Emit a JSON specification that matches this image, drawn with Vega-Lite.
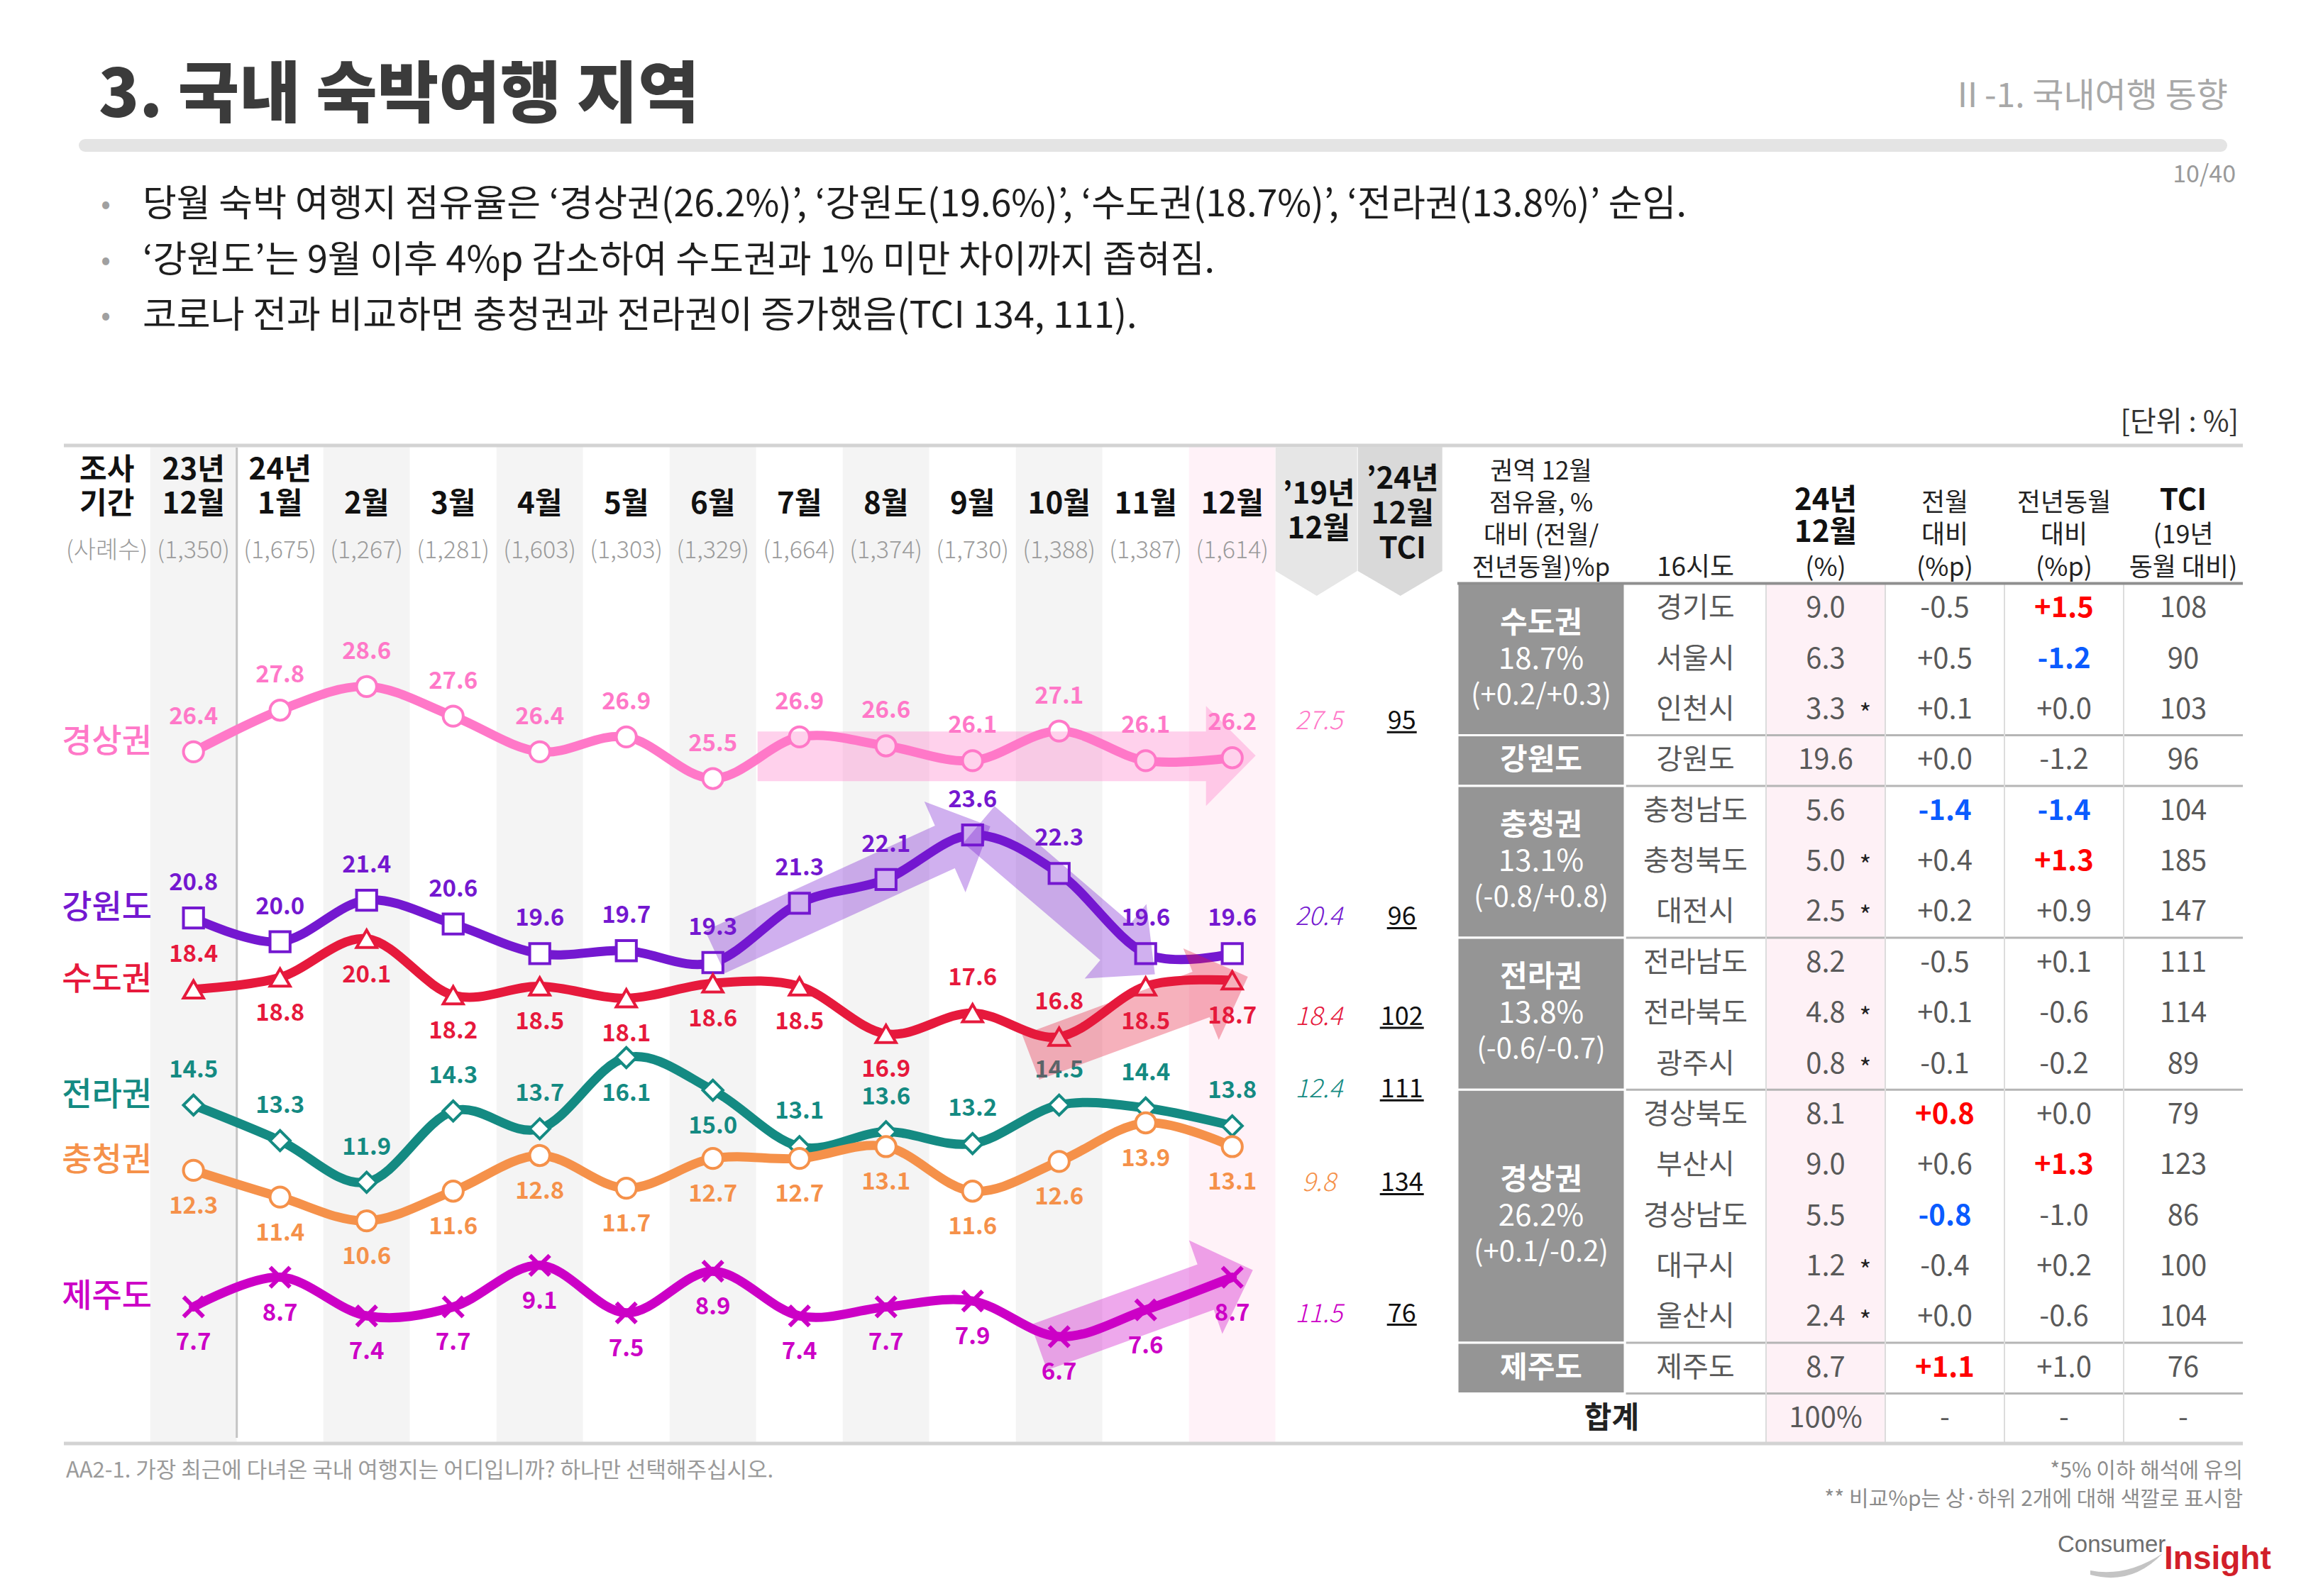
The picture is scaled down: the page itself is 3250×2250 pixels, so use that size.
{
"$schema":"https://vega.github.io/schema/vega-lite/v6.json",
"width":3250,"height":2250,"padding":0,"autosize":{"type":"none"},"background":"#ffffff",
"config":{"font":"Noto Sans CJK KR","view":{"stroke":null},"axis":{"disable":true},"legend":{"disable":true}},
"datasets":{
"series":[
{"region":"경상권","month":"23.12","value":26.4,"pos":"a"},{"region":"경상권","month":"24.01","value":27.8,"pos":"a"},{"region":"경상권","month":"24.02","value":28.6,"pos":"a"},{"region":"경상권","month":"24.03","value":27.6,"pos":"a"},{"region":"경상권","month":"24.04","value":26.4,"pos":"a"},{"region":"경상권","month":"24.05","value":26.9,"pos":"a"},{"region":"경상권","month":"24.06","value":25.5,"pos":"a"},{"region":"경상권","month":"24.07","value":26.9,"pos":"a"},{"region":"경상권","month":"24.08","value":26.6,"pos":"a"},{"region":"경상권","month":"24.09","value":26.1,"pos":"a"},{"region":"경상권","month":"24.10","value":27.1,"pos":"a"},{"region":"경상권","month":"24.11","value":26.1,"pos":"a"},{"region":"경상권","month":"24.12","value":26.2,"pos":"a"},
{"region":"강원도","month":"23.12","value":20.8,"pos":"a"},{"region":"강원도","month":"24.01","value":20.0,"pos":"a"},{"region":"강원도","month":"24.02","value":21.4,"pos":"a"},{"region":"강원도","month":"24.03","value":20.6,"pos":"a"},{"region":"강원도","month":"24.04","value":19.6,"pos":"a"},{"region":"강원도","month":"24.05","value":19.7,"pos":"a"},{"region":"강원도","month":"24.06","value":19.3,"pos":"a"},{"region":"강원도","month":"24.07","value":21.3,"pos":"a"},{"region":"강원도","month":"24.08","value":22.1,"pos":"a"},{"region":"강원도","month":"24.09","value":23.6,"pos":"a"},{"region":"강원도","month":"24.10","value":22.3,"pos":"a"},{"region":"강원도","month":"24.11","value":19.6,"pos":"a"},{"region":"강원도","month":"24.12","value":19.6,"pos":"a"},
{"region":"수도권","month":"23.12","value":18.4,"pos":"a"},{"region":"수도권","month":"24.01","value":18.8,"pos":"b"},{"region":"수도권","month":"24.02","value":20.1,"pos":"b"},{"region":"수도권","month":"24.03","value":18.2,"pos":"b"},{"region":"수도권","month":"24.04","value":18.5,"pos":"b"},{"region":"수도권","month":"24.05","value":18.1,"pos":"b"},{"region":"수도권","month":"24.06","value":18.6,"pos":"b"},{"region":"수도권","month":"24.07","value":18.5,"pos":"b"},{"region":"수도권","month":"24.08","value":16.9,"pos":"b"},{"region":"수도권","month":"24.09","value":17.6,"pos":"a"},{"region":"수도권","month":"24.10","value":16.8,"pos":"a"},{"region":"수도권","month":"24.11","value":18.5,"pos":"b"},{"region":"수도권","month":"24.12","value":18.7,"pos":"b"},
{"region":"전라권","month":"23.12","value":14.5,"pos":"a"},{"region":"전라권","month":"24.01","value":13.3,"pos":"a"},{"region":"전라권","month":"24.02","value":11.9,"pos":"a"},{"region":"전라권","month":"24.03","value":14.3,"pos":"a"},{"region":"전라권","month":"24.04","value":13.7,"pos":"a"},{"region":"전라권","month":"24.05","value":16.1,"pos":"b"},{"region":"전라권","month":"24.06","value":15.0,"pos":"b"},{"region":"전라권","month":"24.07","value":13.1,"pos":"a"},{"region":"전라권","month":"24.08","value":13.6,"pos":"a"},{"region":"전라권","month":"24.09","value":13.2,"pos":"a"},{"region":"전라권","month":"24.10","value":14.5,"pos":"a"},{"region":"전라권","month":"24.11","value":14.4,"pos":"a"},{"region":"전라권","month":"24.12","value":13.8,"pos":"a"},
{"region":"충청권","month":"23.12","value":12.3,"pos":"b"},{"region":"충청권","month":"24.01","value":11.4,"pos":"b"},{"region":"충청권","month":"24.02","value":10.6,"pos":"b"},{"region":"충청권","month":"24.03","value":11.6,"pos":"b"},{"region":"충청권","month":"24.04","value":12.8,"pos":"b"},{"region":"충청권","month":"24.05","value":11.7,"pos":"b"},{"region":"충청권","month":"24.06","value":12.7,"pos":"b"},{"region":"충청권","month":"24.07","value":12.7,"pos":"b"},{"region":"충청권","month":"24.08","value":13.1,"pos":"b"},{"region":"충청권","month":"24.09","value":11.6,"pos":"b"},{"region":"충청권","month":"24.10","value":12.6,"pos":"b"},{"region":"충청권","month":"24.11","value":13.9,"pos":"b"},{"region":"충청권","month":"24.12","value":13.1,"pos":"b"},
{"region":"제주도","month":"23.12","value":7.7,"pos":"b"},{"region":"제주도","month":"24.01","value":8.7,"pos":"b"},{"region":"제주도","month":"24.02","value":7.4,"pos":"b"},{"region":"제주도","month":"24.03","value":7.7,"pos":"b"},{"region":"제주도","month":"24.04","value":9.1,"pos":"b"},{"region":"제주도","month":"24.05","value":7.5,"pos":"b"},{"region":"제주도","month":"24.06","value":8.9,"pos":"b"},{"region":"제주도","month":"24.07","value":7.4,"pos":"b"},{"region":"제주도","month":"24.08","value":7.7,"pos":"b"},{"region":"제주도","month":"24.09","value":7.9,"pos":"b"},{"region":"제주도","month":"24.10","value":6.7,"pos":"b"},{"region":"제주도","month":"24.11","value":7.6,"pos":"b"},{"region":"제주도","month":"24.12","value":8.7,"pos":"b"}
],
"regions":[
{"region":"수도권","first":"경기도","mid":"서울시","last":"인천시","pct":"18.7%","chg":"(+0.2/+0.3)","v19":18.4,"tci":102},
{"region":"강원도","first":"강원도","mid":"강원도","last":"강원도","v19":20.4,"tci":96},
{"region":"충청권","first":"충청남도","mid":"충청북도","last":"대전시","pct":"13.1%","chg":"(-0.8/+0.8)","v19":9.8,"tci":134},
{"region":"전라권","first":"전라남도","mid":"전라북도","last":"광주시","pct":"13.8%","chg":"(-0.6/-0.7)","v19":12.4,"tci":111},
{"region":"경상권","first":"경상북도","mid":"경상남도","last":"울산시","pct":"26.2%","chg":"(+0.1/-0.2)","v19":27.5,"tci":95},
{"region":"제주도","first":"제주도","mid":"제주도","last":"제주도","v19":11.5,"tci":76}
],
"table":[
{"city":"경기도","share":9.0,"mom":"-0.5","yoy":"+1.5","tci":108,"yoyHi":"up"},
{"city":"서울시","share":6.3,"mom":"+0.5","yoy":"-1.2","tci":90,"yoyHi":"down"},
{"city":"인천시","share":3.3,"mom":"+0.1","yoy":"+0.0","tci":103},
{"city":"강원도","share":19.6,"mom":"+0.0","yoy":"-1.2","tci":96},
{"city":"충청남도","share":5.6,"mom":"-1.4","yoy":"-1.4","tci":104,"momHi":"down","yoyHi":"down"},
{"city":"충청북도","share":5.0,"mom":"+0.4","yoy":"+1.3","tci":185,"yoyHi":"up"},
{"city":"대전시","share":2.5,"mom":"+0.2","yoy":"+0.9","tci":147},
{"city":"전라남도","share":8.2,"mom":"-0.5","yoy":"+0.1","tci":111},
{"city":"전라북도","share":4.8,"mom":"+0.1","yoy":"-0.6","tci":114},
{"city":"광주시","share":0.8,"mom":"-0.1","yoy":"-0.2","tci":89},
{"city":"경상북도","share":8.1,"mom":"+0.8","yoy":"+0.0","tci":79,"momHi":"up"},
{"city":"부산시","share":9.0,"mom":"+0.6","yoy":"+1.3","tci":123,"yoyHi":"up"},
{"city":"경상남도","share":5.5,"mom":"-0.8","yoy":"-1.0","tci":86,"momHi":"down"},
{"city":"대구시","share":1.2,"mom":"-0.4","yoy":"+0.2","tci":100},
{"city":"울산시","share":2.4,"mom":"+0.0","yoy":"-0.6","tci":104},
{"city":"제주도","share":8.7,"mom":"+1.1","yoy":"+1.0","tci":76,"momHi":"up"}
],
"chead":[
{"col":"기간","top":"조사","mid":"기간","n":"(사례수)"},
{"col":"23.12","top":"23년","mid":"12월","n":"(1,350)"},
{"col":"24.01","top":"24년","mid":"1월","n":"(1,675)"},
{"col":"24.02","mid":"2월","n":"(1,267)"},
{"col":"24.03","mid":"3월","n":"(1,281)"},
{"col":"24.04","mid":"4월","n":"(1,603)"},
{"col":"24.05","mid":"5월","n":"(1,303)"},
{"col":"24.06","mid":"6월","n":"(1,329)"},
{"col":"24.07","mid":"7월","n":"(1,664)"},
{"col":"24.08","mid":"8월","n":"(1,374)"},
{"col":"24.09","mid":"9월","n":"(1,730)"},
{"col":"24.10","mid":"10월","n":"(1,388)"},
{"col":"24.11","mid":"11월","n":"(1,387)"},
{"col":"24.12","mid":"12월","n":"(1,614)"},
{"col":"'19","box":"’19년\n12월"},
{"col":"TCI","box":"’24년\n12월\nTCI"}
],
"arrows":[
{"arrow":"경상권 유지","region":"경상권","month":"24.12","value":26.2},
{"arrow":"강원도 상승","region":"강원도","month":"24.09","value":23.6},
{"arrow":"강원도 하락","region":"강원도","month":"24.11","value":19.6},
{"arrow":"수도권 상승","region":"수도권","month":"24.12","value":18.7},
{"arrow":"제주도 상승","region":"제주도","month":"24.12","value":8.7}
]
},
"layer":[
{"data":{"values":[{"t":"3. 국내 숙박여행 지역"}]},"mark":{"type":"text","align":"left","baseline":"middle","fontSize":94,"fontWeight":900,"color":"#3b3b3b"},
 "encoding":{"x":{"datum":"k","type":"nominal","scale":{"type":"point","domain":["k"],"range":[139,139],"padding":0}},"y":{"datum":"k","type":"nominal","scale":{"type":"point","domain":["k"],"range":[137,137],"padding":0}},"text":{"field":"t"}}},
{"data":{"values":[{"t":"Ⅱ-1. 국내여행 동향"}]},"mark":{"type":"text","align":"right","baseline":"middle","fontSize":48,"color":"#a8a8a8"},
 "encoding":{"x":{"datum":"k","type":"nominal","scale":{"type":"point","domain":["k"],"range":[3140,3140],"padding":0}},"y":{"datum":"k","type":"nominal","scale":{"type":"point","domain":["k"],"range":[137,137],"padding":0}},"text":{"field":"t"}}},
{"data":{"values":[{}]},"mark":{"type":"rule","strokeWidth":18,"strokeCap":"round","color":"#e4e4e4"},
 "encoding":{"x":{"datum":"L","type":"nominal","scale":{"type":"point","domain":["L","R"],"range":[120,3130],"padding":0}},"x2":{"datum":"R"},"y":{"datum":"k","type":"nominal","scale":{"type":"point","domain":["k"],"range":[205,205],"padding":0}}}},
{"data":{"values":[{"t":"10/40"}]},"mark":{"type":"text","align":"right","baseline":"middle","fontSize":34,"color":"#9a9a9a"},
 "encoding":{"x":{"datum":"k","type":"nominal","scale":{"type":"point","domain":["k"],"range":[3151,3151],"padding":0}},"y":{"datum":"k","type":"nominal","scale":{"type":"point","domain":["k"],"range":[247,247],"padding":0}},"text":{"field":"t"}}},
{"data":{"values":[{"k":"b1","t":"당월 숙박 여행지 점유율은 ‘경상권(26.2%)’, ‘강원도(19.6%)’, ‘수도권(18.7%)’, ‘전라권(13.8%)’ 순임."},{"k":"b2","t":"‘강원도’는 9월 이후 4%p 감소하여 수도권과 1% 미만 차이까지 좁혀짐."},{"k":"b3","t":"코로나 전과 비교하면 충청권과 전라권이 증가했음(TCI 134, 111)."}]},
 "encoding":{"y":{"field":"k","type":"nominal","scale":{"type":"point","domain":["b1","b2","b3"],"range":[289,446],"padding":0}}},
 "layer":[
  {"mark":{"type":"text","align":"left","baseline":"middle","fontSize":52,"color":"#1e1e1e"},
   "encoding":{"x":{"datum":"text","type":"nominal","scale":{"type":"point","domain":["dot","text"],"range":[149,201],"padding":0}},"text":{"field":"t"}}},
  {"mark":{"type":"text","align":"center","baseline":"middle","fontSize":40,"color":"#a0a0a0"},
   "encoding":{"x":{"datum":"dot","type":"nominal","scale":{"type":"point","domain":["dot","text"],"range":[149,201],"padding":0}},"text":{"value":"•"}}}
 ]},
{"data":{"values":[{"t":"[단위 : %]"}]},"mark":{"type":"text","align":"right","baseline":"middle","fontSize":40,"color":"#333333"},
 "encoding":{"x":{"datum":"k","type":"nominal","scale":{"type":"point","domain":["k"],"range":[3155,3155],"padding":0}},"y":{"datum":"k","type":"nominal","scale":{"type":"point","domain":["k"],"range":[596,596],"padding":0}},"text":{"field":"t"}}},
{"data":{"values":[{"t":"AA2-1. 가장 최근에 다녀온 국내 여행지는 어디입니까? 하나만 선택해주십시오."}]},"mark":{"type":"text","align":"left","baseline":"middle","fontSize":31,"color":"#9a9a9a"},
 "encoding":{"x":{"datum":"k","type":"nominal","scale":{"type":"point","domain":["k"],"range":[93,93],"padding":0}},"y":{"datum":"k","type":"nominal","scale":{"type":"point","domain":["k"],"range":[2074,2074],"padding":0}},"text":{"field":"t"}}},
{"data":{"values":[{"k":"f1","t":"*5% 이하 해석에 유의"},{"k":"f2","t":"** 비교%p는 상·하위 2개에 대해 색깔로 표시함"}]},"mark":{"type":"text","align":"right","baseline":"middle","fontSize":30,"color":"#8c8c8c"},
 "encoding":{"x":{"datum":"k","type":"nominal","scale":{"type":"point","domain":["k"],"range":[3161,3161],"padding":0}},"y":{"field":"k","type":"nominal","scale":{"type":"point","domain":["f1","f2"],"range":[2074,2114],"padding":0}},"text":{"field":"t"}}},
{"data":{"values":[{}]},"mark":{"type":"point","filled":true,"size":4,"opacity":1,"strokeWidth":0,"color":"#c4c4c4","shape":"M-50,8Q0,18 52,-16Q8,30 -50,14Z"},
 "encoding":{"x":{"datum":"k","type":"nominal","scale":{"type":"point","domain":["k"],"range":[2996,2996],"padding":0}},"y":{"datum":"k","type":"nominal","scale":{"type":"point","domain":["k"],"range":[2206,2206],"padding":0}}}},
{"data":{"values":[{"t":"Consumer"}]},"mark":{"type":"text","align":"left","baseline":"alphabetic","fontSize":33,"font":"Liberation Sans","color":"#6e6e6e"},
 "encoding":{"x":{"datum":"k","type":"nominal","scale":{"type":"point","domain":["k"],"range":[2900,2900],"padding":0}},"y":{"datum":"k","type":"nominal","scale":{"type":"point","domain":["k"],"range":[2188,2188],"padding":0}},"text":{"field":"t"}}},
{"data":{"values":[{"t":"Insight"}]},"mark":{"type":"text","align":"left","baseline":"alphabetic","fontSize":46,"fontWeight":"bold","font":"Liberation Sans","color":"#d21f2a"},
 "encoding":{"x":{"datum":"k","type":"nominal","scale":{"type":"point","domain":["k"],"range":[3050,3050],"padding":0}},"y":{"datum":"k","type":"nominal","scale":{"type":"point","domain":["k"],"range":[2212,2212],"padding":0}},"text":{"field":"t"}}},

{"data":{"name":"chead"},"mark":{"type":"rect"},
 "encoding":{"x":{"field":"col","type":"nominal","scale":{"type":"band","domain":["기간","23.12","24.01","24.02","24.03","24.04","24.05","24.06","24.07","24.08","24.09","24.10","24.11","24.12","'19","TCI"],"range":[89.7,2041.7],"paddingInner":0,"paddingOuter":0}},
  "y":{"datum":"top","type":"nominal","scale":{"type":"point","domain":["top","bottom"],"range":[628,2034],"padding":0}},"y2":{"datum":"bottom"},
  "color":{"field":"col","type":"nominal","scale":{"domain":["기간","23.12","24.01","24.02","24.03","24.04","24.05","24.06","24.07","24.08","24.09","24.10","24.11","24.12","'19","TCI"],"range":["#ffffff","#f4f4f4","#ffffff","#f4f4f4","#ffffff","#f4f4f4","#ffffff","#f4f4f4","#ffffff","#f4f4f4","#ffffff","#f4f4f4","#ffffff","#fff2f8","#ffffff","#ffffff"]}}}},

{"data":{"values":[{}]},"mark":{"type":"rect","color":"#fef1f6"},
 "encoding":{"x":{"datum":"share","type":"nominal","scale":{"type":"band","domain":["share","mom","yoy","tci"],"range":[2489,3161],"paddingInner":0,"paddingOuter":0}},
  "y":{"datum":"경기도","type":"nominal","bandPosition":0,"scale":{"type":"band","domain":["경기도","서울시","인천시","강원도","충청남도","충청북도","대전시","전라남도","전라북도","광주시","경상북도","부산시","경상남도","대구시","울산시","제주도","합계"],"range":[822.5,2035.8],"paddingInner":0,"paddingOuter":0}},
  "y2":{"datum":"합계","bandPosition":1}}},

{"data":{"name":"regions"},"mark":{"type":"rule","color":"#b5b5b5","strokeWidth":3},
 "encoding":{"x":{"datum":"L","type":"nominal","scale":{"type":"point","domain":["L","R"],"range":[2054,3161],"padding":0}},"x2":{"datum":"R"},
  "y":{"field":"last","type":"nominal","bandPosition":1,"scale":{"type":"band","domain":["경기도","서울시","인천시","강원도","충청남도","충청북도","대전시","전라남도","전라북도","광주시","경상북도","부산시","경상남도","대구시","울산시","제주도","합계"],"range":[822.5,2035.8],"paddingInner":0,"paddingOuter":0}}}},

{"data":{"name":"regions"},"mark":{"type":"rect","color":"#959595","stroke":"#ffffff","strokeWidth":3},
 "encoding":{"x":{"datum":"grp","type":"nominal","scale":{"type":"band","domain":["grp"],"range":[2054,2290],"paddingInner":0,"paddingOuter":0}},
  "y":{"field":"first","type":"nominal","bandPosition":0,"scale":{"type":"band","domain":["경기도","서울시","인천시","강원도","충청남도","충청북도","대전시","전라남도","전라북도","광주시","경상북도","부산시","경상남도","대구시","울산시","제주도","합계"],"range":[822.5,2035.8],"paddingInner":0,"paddingOuter":0}},
  "y2":{"field":"last","bandPosition":1}}},

{"data":{"values":[{"c":"share"},{"c":"mom"},{"c":"yoy"},{"c":"tci"}]},"mark":{"type":"rule","color":"#dcdcdc","strokeWidth":2},
 "encoding":{"x":{"field":"c","type":"nominal","bandPosition":0,"scale":{"type":"band","domain":["share","mom","yoy","tci"],"range":[2489,3161],"paddingInner":0,"paddingOuter":0}},
  "y":{"datum":"경기도","type":"nominal","bandPosition":0,"scale":{"type":"band","domain":["경기도","서울시","인천시","강원도","충청남도","충청북도","대전시","전라남도","전라북도","광주시","경상북도","부산시","경상남도","대구시","울산시","제주도","합계"],"range":[822.5,2035.8],"paddingInner":0,"paddingOuter":0}},
  "y2":{"datum":"합계","bandPosition":1}}},

{"data":{"values":[{}]},"mark":{"type":"rule","color":"#8f8f8f","strokeWidth":4},
 "encoding":{"x":{"datum":"L","type":"nominal","scale":{"type":"point","domain":["L","R"],"range":[2054,3161],"padding":0}},"x2":{"datum":"R"},
  "y":{"datum":"경기도","type":"nominal","bandPosition":0,"scale":{"type":"band","domain":["경기도","서울시","인천시","강원도","충청남도","충청북도","대전시","전라남도","전라북도","광주시","경상북도","부산시","경상남도","대구시","울산시","제주도","합계"],"range":[822.5,2035.8],"paddingInner":0,"paddingOuter":0}}}},

{"data":{"values":[{"edge":"top"},{"edge":"bottom"}]},"mark":{"type":"rule","color":"#d3d3d3","strokeWidth":5},
 "encoding":{"x":{"datum":"L","type":"nominal","scale":{"type":"point","domain":["L","R"],"range":[90,3161],"padding":0}},"x2":{"datum":"R"},
  "y":{"field":"edge","type":"nominal","scale":{"type":"point","domain":["top","bottom"],"range":[628,2035],"padding":0}}}},

{"data":{"values":[{}]},"mark":{"type":"rule","color":"#c4c4c4","strokeWidth":3},
 "encoding":{"x":{"datum":"24.01","type":"nominal","bandPosition":0,"scale":{"type":"band","domain":["기간","23.12","24.01","24.02","24.03","24.04","24.05","24.06","24.07","24.08","24.09","24.10","24.11","24.12","'19","TCI"],"range":[89.7,2041.7],"paddingInner":0,"paddingOuter":0}},
  "y":{"datum":"top","type":"nominal","scale":{"type":"point","domain":["top","bottom"],"range":[631,2027],"padding":0}},"y2":{"datum":"bottom"}}},

{"data":{"name":"chead"},
 "encoding":{"x":{"field":"col","type":"nominal","scale":{"type":"band","domain":["기간","23.12","24.01","24.02","24.03","24.04","24.05","24.06","24.07","24.08","24.09","24.10","24.11","24.12","'19","TCI"],"range":[89.7,2041.7],"paddingInner":0,"paddingOuter":0}},
  "y":{"datum":"r2","type":"nominal","scale":{"type":"point","domain":["r1","r2","r3"],"range":[663,759],"padding":0}}},
 "layer":[
  {"transform":[{"filter":"datum.box"}],"mark":{"type":"point","filled":true,"size":4,"opacity":1,"strokeWidth":0},
   "encoding":{"shape":{"field":"col","type":"nominal","scale":{"domain":["'19","TCI"],"range":["M-61,-81L54,-81L54,94L-3,129L-61,94Z","M-67,-81L52,-81L52,94L-7,129L-67,94Z"]}},
    "color":{"field":"col","type":"nominal","scale":{"domain":["'19","TCI"],"range":["#e6e6e6","#d9d9d9"]}}}},
  {"transform":[{"filter":"datum.col === \"'19\""}],"mark":{"type":"text","baseline":"middle","lineBreak":"\n","lineHeight":49,"dy":-14,"fontSize":42,"fontWeight":"bold","color":"#111111"},
   "encoding":{"text":{"field":"box"}}},
  {"transform":[{"filter":"datum.col === 'TCI'"}],"mark":{"type":"text","baseline":"middle","lineBreak":"\n","lineHeight":49,"dy":-35,"dx":-4,"fontSize":42,"fontWeight":"bold","color":"#111111"},
   "encoding":{"text":{"field":"box"}}},
  {"transform":[{"filter":"datum.top"}],"mark":{"type":"text","baseline":"middle","fontSize":42,"fontWeight":"bold","color":"#111111"},
   "encoding":{"y":{"datum":"r1","type":"nominal"},"text":{"field":"top"}}},
  {"transform":[{"filter":"datum.mid"}],"mark":{"type":"text","baseline":"middle","fontSize":42,"fontWeight":"bold","color":"#111111"},
   "encoding":{"text":{"field":"mid"}}},
  {"transform":[{"filter":"datum.n"}],"mark":{"type":"text","baseline":"middle","dy":18,"fontSize":34,"fontWeight":300,"color":"#9b9b9b"},
   "encoding":{"y":{"datum":"r3","type":"nominal"},"text":{"field":"n"}}}
 ]},

{"data":{"values":[{"l":"L3","t":"권역 12월"},{"l":"L2","t":"점유율, %"},{"l":"L1","t":"대비 (전월/"},{"l":"L0","t":"전년동월)%p"}]},"mark":{"type":"text","baseline":"middle","fontSize":35,"color":"#222222"},
 "encoding":{"x":{"datum":"grp","type":"nominal","scale":{"type":"band","domain":["grp"],"range":[2054,2290],"paddingInner":0,"paddingOuter":0}},
  "y":{"field":"l","type":"nominal","scale":{"type":"point","domain":["L3","L2","L1","L0"],"range":[664.5,800.5],"padding":0}},"text":{"field":"t"}}},
{"data":{"values":[{"l":"L0","t":"16시도"}]},"mark":{"type":"text","baseline":"middle","fontSize":37,"color":"#222222"},
 "encoding":{"x":{"datum":"city","type":"nominal","scale":{"type":"band","domain":["city"],"range":[2290,2489],"paddingInner":0,"paddingOuter":0}},
  "y":{"field":"l","type":"nominal","scale":{"type":"point","domain":["L3","L2","L1","L0"],"range":[664.5,800.5],"padding":0}},"text":{"field":"t"}}},
{"data":{"values":[{"c":"share","l":"L0","t":"(%)"},{"c":"mom","l":"L2","t":"전월"},{"c":"mom","l":"L1","t":"대비"},{"c":"mom","l":"L0","t":"(%p)"},{"c":"yoy","l":"L2","t":"전년동월"},{"c":"yoy","l":"L1","t":"대비"},{"c":"yoy","l":"L0","t":"(%p)"},{"c":"tci","l":"L1","t":"(19년"},{"c":"tci","l":"L0","t":"동월 대비)"}]},
 "mark":{"type":"text","baseline":"middle","fontSize":36,"color":"#222222"},
 "encoding":{"x":{"field":"c","type":"nominal","scale":{"type":"band","domain":["share","mom","yoy","tci"],"range":[2489,3161],"paddingInner":0,"paddingOuter":0}},
  "y":{"field":"l","type":"nominal","scale":{"type":"point","domain":["L3","L2","L1","L0"],"range":[664.5,800.5],"padding":0}},"text":{"field":"t"}}},
{"data":{"values":[{"c":"share","l":"L2","t":"24년"},{"c":"share","l":"L1","t":"12월"},{"c":"tci","l":"L2","t":"TCI"}]},
 "mark":{"type":"text","baseline":"middle","dy":-4,"fontSize":42,"fontWeight":"bold","color":"#111111"},
 "encoding":{"x":{"field":"c","type":"nominal","scale":{"type":"band","domain":["share","mom","yoy","tci"],"range":[2489,3161],"paddingInner":0,"paddingOuter":0}},
  "y":{"field":"l","type":"nominal","scale":{"type":"point","domain":["L3","L2","L1","L0"],"range":[664.5,800.5],"padding":0}},"text":{"field":"t"}}},

{"data":{"name":"regions"},
 "encoding":{"x":{"datum":"grp","type":"nominal","scale":{"type":"band","domain":["grp"],"range":[2054,2290],"paddingInner":0,"paddingOuter":0}},
  "y":{"field":"mid","type":"nominal","scale":{"type":"band","domain":["경기도","서울시","인천시","강원도","충청남도","충청북도","대전시","전라남도","전라북도","광주시","경상북도","부산시","경상남도","대구시","울산시","제주도","합계"],"range":[822.5,2035.8],"paddingInner":0,"paddingOuter":0}}},
 "layer":[
  {"transform":[{"filter":"datum.pct"}],"mark":{"type":"text","baseline":"middle","dy":-51,"fontSize":42,"fontWeight":"bold","color":"#ffffff"},"encoding":{"text":{"field":"region"}}},
  {"transform":[{"filter":"!datum.pct"}],"mark":{"type":"text","baseline":"middle","fontSize":42,"fontWeight":"bold","color":"#ffffff"},"encoding":{"text":{"field":"region"}}},
  {"transform":[{"filter":"datum.pct"}],"mark":{"type":"text","baseline":"middle","fontSize":42,"color":"#ffffff"},"encoding":{"text":{"field":"pct"}}},
  {"transform":[{"filter":"datum.pct"}],"mark":{"type":"text","baseline":"middle","dy":51,"fontSize":40,"color":"#ffffff"},"encoding":{"text":{"field":"chg"}}}
 ]},

{"data":{"name":"table"},"mark":{"type":"text","baseline":"middle","fontSize":40,"color":"#595959"},
 "encoding":{"x":{"datum":"city","type":"nominal","scale":{"type":"band","domain":["city"],"range":[2290,2489],"paddingInner":0,"paddingOuter":0}},
  "y":{"field":"city","type":"nominal","scale":{"type":"band","domain":["경기도","서울시","인천시","강원도","충청남도","충청북도","대전시","전라남도","전라북도","광주시","경상북도","부산시","경상남도","대구시","울산시","제주도","합계"],"range":[822.5,2035.8],"paddingInner":0,"paddingOuter":0}},"text":{"field":"city"}}},
{"data":{"values":[{"t":"합계"}]},"mark":{"type":"text","baseline":"middle","dx":-118,"fontSize":42,"fontWeight":"bold","color":"#222222"},
 "encoding":{"x":{"datum":"city","type":"nominal","scale":{"type":"band","domain":["city"],"range":[2290,2489],"paddingInner":0,"paddingOuter":0}},
  "y":{"datum":"합계","type":"nominal","scale":{"type":"band","domain":["경기도","서울시","인천시","강원도","충청남도","충청북도","대전시","전라남도","전라북도","광주시","경상북도","부산시","경상남도","대구시","울산시","제주도","합계"],"range":[822.5,2035.8],"paddingInner":0,"paddingOuter":0}},"text":{"field":"t"}}},

{"data":{"name":"table"},
 "encoding":{"y":{"field":"city","type":"nominal","scale":{"type":"band","domain":["경기도","서울시","인천시","강원도","충청남도","충청북도","대전시","전라남도","전라북도","광주시","경상북도","부산시","경상남도","대구시","울산시","제주도","합계"],"range":[822.5,2035.8],"paddingInner":0,"paddingOuter":0}}},
 "layer":[
  {"mark":{"type":"text","baseline":"middle","fontSize":40,"color":"#595959"},
   "encoding":{"x":{"datum":"share","type":"nominal","scale":{"type":"band","domain":["share","mom","yoy","tci"],"range":[2489,3161],"paddingInner":0,"paddingOuter":0}},"text":{"field":"share","type":"quantitative","format":".1f"}}},
  {"transform":[{"filter":"datum.share <= 5"}],"mark":{"type":"text","baseline":"middle","dx":56,"dy":7,"fontSize":36,"color":"#222222"},
   "encoding":{"x":{"datum":"share","type":"nominal","scale":{"type":"band","domain":["share","mom","yoy","tci"],"range":[2489,3161],"paddingInner":0,"paddingOuter":0}},"text":{"value":"*"}}},
  {"transform":[{"filter":"!datum.momHi"}],"mark":{"type":"text","baseline":"middle","fontSize":40,"color":"#595959"},
   "encoding":{"x":{"datum":"mom","type":"nominal","scale":{"type":"band","domain":["share","mom","yoy","tci"],"range":[2489,3161],"paddingInner":0,"paddingOuter":0}},"text":{"field":"mom"}}},
  {"transform":[{"filter":"datum.momHi"}],"mark":{"type":"text","baseline":"middle","fontSize":40,"fontWeight":"bold"},
   "encoding":{"x":{"datum":"mom","type":"nominal","scale":{"type":"band","domain":["share","mom","yoy","tci"],"range":[2489,3161],"paddingInner":0,"paddingOuter":0}},"text":{"field":"mom"},
    "color":{"field":"momHi","type":"nominal","scale":{"domain":["up","down"],"range":["#ff0000","#0a5bff"]}}}},
  {"transform":[{"filter":"!datum.yoyHi"}],"mark":{"type":"text","baseline":"middle","fontSize":40,"color":"#595959"},
   "encoding":{"x":{"datum":"yoy","type":"nominal","scale":{"type":"band","domain":["share","mom","yoy","tci"],"range":[2489,3161],"paddingInner":0,"paddingOuter":0}},"text":{"field":"yoy"}}},
  {"transform":[{"filter":"datum.yoyHi"}],"mark":{"type":"text","baseline":"middle","fontSize":40,"fontWeight":"bold"},
   "encoding":{"x":{"datum":"yoy","type":"nominal","scale":{"type":"band","domain":["share","mom","yoy","tci"],"range":[2489,3161],"paddingInner":0,"paddingOuter":0}},"text":{"field":"yoy"},
    "color":{"field":"yoyHi","type":"nominal","scale":{"domain":["up","down"],"range":["#ff0000","#0a5bff"]}}}},
  {"mark":{"type":"text","baseline":"middle","fontSize":40,"color":"#595959"},
   "encoding":{"x":{"datum":"tci","type":"nominal","scale":{"type":"band","domain":["share","mom","yoy","tci"],"range":[2489,3161],"paddingInner":0,"paddingOuter":0}},"text":{"field":"tci","type":"quantitative"}}}
 ]},
{"data":{"values":[{"c":"share","t":"100%"},{"c":"mom","t":"-"},{"c":"yoy","t":"-"},{"c":"tci","t":"-"}]},"mark":{"type":"text","baseline":"middle","fontSize":40,"color":"#595959"},
 "encoding":{"x":{"field":"c","type":"nominal","scale":{"type":"band","domain":["share","mom","yoy","tci"],"range":[2489,3161],"paddingInner":0,"paddingOuter":0}},
  "y":{"datum":"합계","type":"nominal","scale":{"type":"band","domain":["경기도","서울시","인천시","강원도","충청남도","충청북도","대전시","전라남도","전라북도","광주시","경상북도","부산시","경상남도","대구시","울산시","제주도","합계"],"range":[822.5,2035.8],"paddingInner":0,"paddingOuter":0}},"text":{"field":"t"}}},

{"data":{"name":"series"},
 "encoding":{"x":{"field":"month","type":"nominal","scale":{"type":"band","domain":["기간","23.12","24.01","24.02","24.03","24.04","24.05","24.06","24.07","24.08","24.09","24.10","24.11","24.12","'19","TCI"],"range":[89.7,2041.7],"paddingInner":0,"paddingOuter":0}},
  "y":{"field":"value","type":"quantitative","scale":{"type":"linear","domain":[0,30],"range":[2164.7,909.2],"nice":false,"zero":false}}},
 "layer":[
  {"mark":{"type":"line","interpolate":"cardinal","strokeWidth":13,"strokeCap":"round","strokeJoin":"round"},
   "encoding":{"color":{"field":"region","type":"nominal","scale":{"domain":["경상권","강원도","수도권","전라권","충청권","제주도"],"range":["#ff78c8","#7418d0","#e6193c","#148a82","#f5914a","#cc00c6"]}}}},
  {"transform":[{"filter":"datum.region !== '제주도'"}],"mark":{"type":"point","filled":true,"fill":"#ffffff","strokeWidth":4,"opacity":1,"size":800},
   "encoding":{"stroke":{"field":"region","type":"nominal","scale":{"domain":["경상권","강원도","수도권","전라권","충청권","제주도"],"range":["#ff78c8","#7418d0","#e6193c","#148a82","#f5914a","#cc00c6"]}},
    "shape":{"field":"region","type":"nominal","scale":{"domain":["경상권","강원도","수도권","전라권","충청권"],"range":["circle","square","triangle-up","diamond","circle"]}}}},
  {"transform":[{"filter":"datum.region === '제주도'"}],"mark":{"type":"point","filled":false,"size":4,"opacity":1,"strokeWidth":6,"color":"#cc00c6","shape":"M-14,-14L14,14M-14,14L14,-14"}},
  {"transform":[{"filter":"datum.pos === 'a'"}],"mark":{"type":"text","baseline":"middle","dy":-49,"fontSize":33,"fontWeight":600},
   "encoding":{"text":{"field":"value","type":"quantitative","format":".1f"},"color":{"field":"region","type":"nominal","scale":{"domain":["경상권","강원도","수도권","전라권","충청권","제주도"],"range":["#ff78c8","#7418d0","#e6193c","#148a82","#f5914a","#cc00c6"]}}}},
  {"transform":[{"filter":"datum.pos === 'b'"}],"mark":{"type":"text","baseline":"middle","dy":51,"fontSize":33,"fontWeight":600},
   "encoding":{"text":{"field":"value","type":"quantitative","format":".1f"},"color":{"field":"region","type":"nominal","scale":{"domain":["경상권","강원도","수도권","전라권","충청권","제주도"],"range":["#ff78c8","#7418d0","#e6193c","#148a82","#f5914a","#cc00c6"]}}}},
  {"transform":[{"filter":"datum.month === '23.12'"}],"mark":{"type":"text","baseline":"middle","dy":-14,"fontSize":46,"fontWeight":500},
   "encoding":{"x":{"datum":"기간","type":"nominal"},"text":{"field":"region"},"color":{"field":"region","type":"nominal","scale":{"domain":["경상권","강원도","수도권","전라권","충청권","제주도"],"range":["#ff78c8","#7418d0","#e6193c","#148a82","#f5914a","#cc00c6"]}}}},
  {"transform":[{"filter":"datum.month === '24.12'"},{"lookup":"region","from":{"data":{"name":"regions"},"key":"region","fields":["v19","tci"]}}],
   "layer":[
    {"transform":[{"filter":"datum.pos === 'a'"}],"mark":{"type":"text","baseline":"middle","dy":-51,"fontSize":36,"fontStyle":"italic","fontWeight":300},
     "encoding":{"x":{"datum":"'19","type":"nominal"},"text":{"field":"v19","type":"quantitative","format":".1f"},"color":{"field":"region","type":"nominal","scale":{"domain":["경상권","강원도","수도권","전라권","충청권","제주도"],"range":["#ff78c8","#7418d0","#e6193c","#148a82","#f5914a","#cc00c6"]}}}},
    {"transform":[{"filter":"datum.pos === 'b'"}],"mark":{"type":"text","baseline":"middle","dy":52,"fontSize":36,"fontStyle":"italic","fontWeight":300},
     "encoding":{"x":{"datum":"'19","type":"nominal"},"text":{"field":"v19","type":"quantitative","format":".1f"},"color":{"field":"region","type":"nominal","scale":{"domain":["경상권","강원도","수도권","전라권","충청권","제주도"],"range":["#ff78c8","#7418d0","#e6193c","#148a82","#f5914a","#cc00c6"]}}}},
    {"transform":[{"filter":"datum.pos === 'a'"}],"mark":{"type":"text","baseline":"middle","dy":-51,"dx":-5,"fontSize":36,"color":"#111111"},
     "encoding":{"x":{"datum":"TCI","type":"nominal"},"text":{"field":"tci","type":"quantitative"}}},
    {"transform":[{"filter":"datum.pos === 'b'"}],"mark":{"type":"text","baseline":"middle","dy":52,"dx":-5,"fontSize":36,"color":"#111111"},
     "encoding":{"x":{"datum":"TCI","type":"nominal"},"text":{"field":"tci","type":"quantitative"}}},
    {"mark":{"type":"point","filled":false,"size":4,"opacity":1,"strokeWidth":3,"color":"#111111"},
     "encoding":{"x":{"datum":"TCI","type":"nominal"},"shape":{"field":"tci","type":"nominal","scale":{"domain":[95,96,111,102,134,76],"range":["M-26,-36L16,-36","M-26,-36L16,-36","M-36,-36L26,-36","M-36,67L26,67","M-36,67L26,67","M-26,67L16,67"]}}}}
   ],
   "resolve":{"scale":{"shape":"independent"}}},
  {"data":{"name":"arrows"},"mark":{"type":"point","filled":true,"size":4,"opacity":0.34,"strokeWidth":0},
   "encoding":{"shape":{"field":"arrow","type":"nominal","scale":{"domain":["경상권 유지","강원도 상승","강원도 하락","수도권 상승","제주도 상승"],"range":["M-669,-37L-37,-37L-37,-73L33,-3L-37,68L-37,33L-669,33Z","M-377,135L-53,-13L-68,-47L25,-12L-10,81L-25,47L-349,195Z","M-213,-208L-21,-43L1,-70L13,29L-86,35L-64,9L-257,-156Z","M-296,77L-56,-12L-69,-45L22,-5L-19,84L-32,52L-272,140Z","M-284,67L-49,-18L-61,-52L29,-10L-14,80L-26,46L-261,131Z"]}},
    "color":{"field":"region","type":"nominal","scale":{"domain":["경상권","강원도","수도권","전라권","충청권","제주도"],"range":["#ff78c8","#7418d0","#e6193c","#148a82","#f5914a","#cc00c6"]}}}}
 ],
 "resolve":{"scale":{"shape":"independent"}}}
],
"resolve":{"scale":{"x":"independent","y":"independent","color":"independent","stroke":"independent","shape":"independent","size":"independent","opacity":"independent"}}
}
